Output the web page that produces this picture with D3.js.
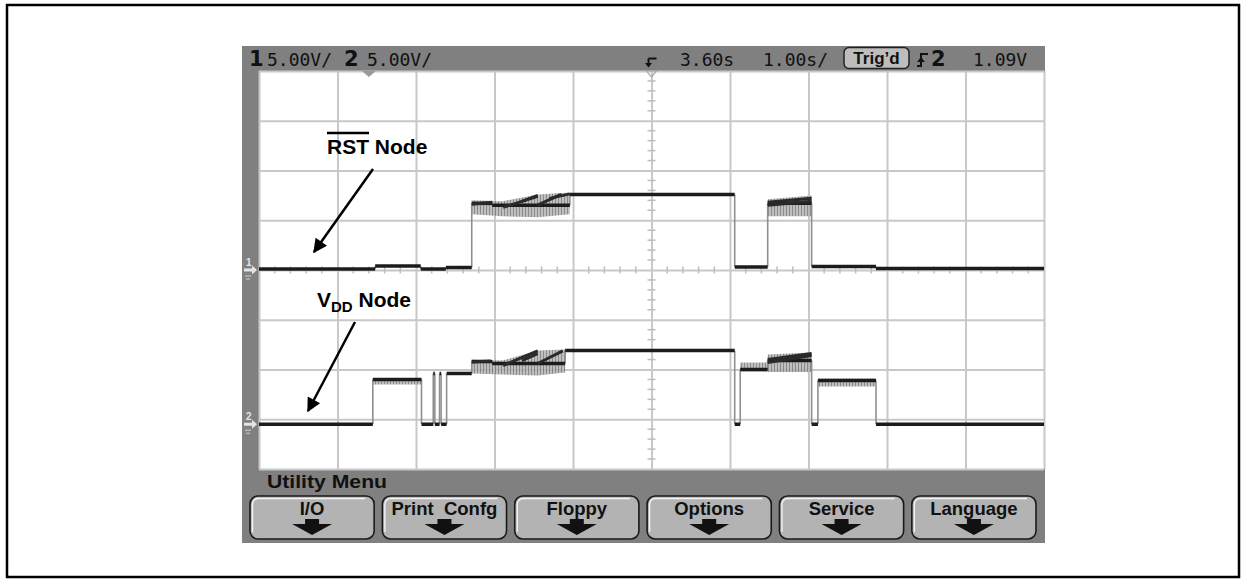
<!DOCTYPE html>
<html lang="en">
<head>
<meta charset="utf-8">
<title>RST and VDD node scope capture</title>
<script src="https://d3js.org/d3.v7.min.js"></script>
<style>
  body { margin: 0; background: white; }
</style>
</head>
<body>
<script>
const w = 1246;
const h = 582;

// scope settings
const voltsPerDiv = [5.0, 5.0];
const secPerDiv = 1.0;
const delay = 3.60;
const trigLevel = 1.09;
const timeRange = [-1.4, 8.6];      // s, left to right edge of the screen
const ch1Range = [-20, 20];         // V, bottom to top (RST)
const ch2Range = [-4.5, 35.5];      // V, bottom to top (VDD)

// trace 1: RST node, flat steps [t start, t end, volts]
const rstSteps = [
  [-1.4, 0.08, 0.1],
  [0.08, 0.66, 0.4],
  [0.66, 0.98, 0.1],
  [0.98, 1.31, 0.25],
  [1.31, 1.57, 6.7],
  [1.57, 2.56, 6.5],
  [2.56, 4.66, 7.6],
  [4.66, 5.08, 0.3],
  [5.08, 5.64, 6.7],
  [5.64, 6.46, 0.35],
  [6.46, 8.6, 0.15]
];
// sawtooth pieces inside the noisy parts [t0, v0, t1, v1]
const rstRamps = [
  [1.31, 6.6, 1.57, 6.8],
  [1.71, 6.3, 2.15, 7.4],
  [1.95, 6.9, 2.15, 7.5],
  [2.14, 6.5, 2.45, 7.6],
  [2.30, 7.2, 2.56, 7.65],
  [5.08, 6.5, 5.64, 6.9],
  [5.08, 6.8, 5.64, 7.2]
];
// noise envelopes [t, top, bottom]
const rstNoise = [
  [[1.31, 7.0, 5.6], [1.70, 6.9, 5.4], [2.15, 7.6, 5.3], [2.56, 7.8, 5.6]],
  [[5.08, 7.1, 5.4], [5.64, 7.5, 5.4]]
];

// trace 2: VDD node
const vddSteps = [
  [-1.4, 0.05, 0.0],
  [0.05, 0.67, 4.5],
  [0.67, 0.82, 0.0],
  [0.82, 0.84, 5.1],
  [0.84, 0.90, 0.0],
  [0.90, 0.92, 5.1],
  [0.92, 0.99, 0.0],
  [0.99, 1.31, 5.1],
  [1.31, 1.57, 6.3],
  [1.57, 2.50, 6.1],
  [2.50, 4.66, 7.4],
  [4.66, 4.73, 0.0],
  [4.73, 5.08, 5.5],
  [5.08, 5.64, 6.4],
  [5.64, 5.72, 0.0],
  [5.72, 6.46, 4.4],
  [6.46, 8.6, 0.0]
];
const vddRamps = [
  [1.31, 6.26, 1.55, 6.36],
  [1.71, 5.9, 2.15, 7.37],
  [1.95, 6.4, 2.15, 7.1],
  [2.15, 6.1, 2.47, 7.37],
  [5.08, 6.2, 5.64, 6.9],
  [5.08, 6.5, 5.64, 7.1]
];
const vddNoise = [
  [[0.05, 4.6, 4.0], [0.67, 4.6, 4.0]],
  [[1.31, 6.5, 5.1], [1.70, 6.4, 5.0], [2.15, 7.4, 4.9], [2.50, 7.5, 5.2]],
  [[4.73, 6.2, 5.3], [5.08, 6.2, 5.3]],
  [[5.08, 7.0, 5.25], [5.64, 7.2, 5.25]],
  [[5.72, 4.6, 3.8], [6.46, 4.6, 3.8]]
];

const menuTitle = "Utility  Menu";
const menuLabels = ["I/O", "Print  Confg", "Floppy", "Options", "Service", "Language"];

// ---- layout
const scr = {x: 242, y: 46, w: 803, h: 497};
const grid = {x0: 259, y0: 71, x1: 1044, y1: 469};
const nx = 10, ny = 8;

const svg = d3.select("body")
  .append("svg")
  .attr("width", w)
  .attr("height", h)
  .attr("font-family", "Liberation Sans, Arial, sans-serif");

svg.append("rect")
  .attr("x", 7).attr("y", 5)
  .attr("width", 1232).attr("height", 572)
  .attr("fill", "white")
  .attr("stroke", "black")
  .attr("stroke-width", 2.5);

const defs = svg.append("defs");
const pat = defs.append("pattern")
  .attr("id", "noise")
  .attr("patternUnits", "userSpaceOnUse")
  .attr("width", 3).attr("height", 6);
pat.append("rect").attr("width", 3).attr("height", 6).attr("fill", "#b4b4b4");
pat.append("rect").attr("width", 1).attr("height", 6).attr("fill", "#777");

defs.append("marker")
  .attr("id", "head")
  .attr("viewBox", "0 0 10 10")
  .attr("refX", 9).attr("refY", 5)
  .attr("markerWidth", 7).attr("markerHeight", 5.6)
  .attr("orient", "auto")
  .append("path")
  .attr("d", "M0,0 L10,5 L0,10 z")
  .attr("fill", "black");

// scope screen
svg.append("rect")
  .attr("x", scr.x).attr("y", scr.y)
  .attr("width", scr.w).attr("height", scr.h)
  .attr("fill", "#808080");
svg.append("rect")
  .attr("x", grid.x0).attr("y", grid.y0)
  .attr("width", grid.x1 - grid.x0).attr("height", grid.y1 - grid.y0)
  .attr("fill", "white");

const xDiv = d3.scaleLinear().domain([0, nx]).range([grid.x0, grid.x1]);
const yDiv = d3.scaleLinear().domain([0, ny]).range([grid.y0, grid.y1]);
const x = d3.scaleLinear().domain(timeRange).range([grid.x0, grid.x1]);
const y1 = d3.scaleLinear().domain(ch1Range).range([grid.y1, grid.y0]);
const y2 = d3.scaleLinear().domain(ch2Range).range([grid.y1, grid.y0]);

// graticule
const gridG = svg.append("g");
gridG.append("g")
  .attr("transform", `translate(0,${grid.y0})`)
  .call(d3.axisTop(xDiv).ticks(nx).tickSize(-(grid.y1 - grid.y0)).tickFormat(""))
  .call(g => g.select(".domain").remove());
gridG.append("g")
  .attr("transform", `translate(${grid.x0},0)`)
  .call(d3.axisLeft(yDiv).ticks(ny).tickSize(-(grid.x1 - grid.x0)).tickFormat(""))
  .call(g => g.select(".domain").remove());
gridG.selectAll(".tick line")
  .attr("stroke", "#c8c8c8")
  .attr("stroke-width", 2);

// minor ticks on the centre axes
const cx = xDiv(nx / 2), cy = yDiv(ny / 2);
gridG.selectAll(".mx")
  .data(d3.range(1, nx * 5).filter(i => i % 5 !== 0))
  .enter().append("line")
  .attr("x1", i => xDiv(i / 5)).attr("x2", i => xDiv(i / 5))
  .attr("y1", cy - 3.5).attr("y2", cy + 3.5)
  .attr("stroke", "#bdbdbd").attr("stroke-width", 1.5);
gridG.selectAll(".my")
  .data(d3.range(1, ny * 5).filter(i => i % 5 !== 0))
  .enter().append("line")
  .attr("y1", i => yDiv(i / 5)).attr("y2", i => yDiv(i / 5))
  .attr("x1", cx - 4).attr("x2", cx + 4)
  .attr("stroke", "#bdbdbd").attr("stroke-width", 1.5);

// trigger (t = 0) marker and delay marker at the top of the grid
svg.append("path")
  .attr("d", `M${x(0) - 7},${grid.y0} L${x(0) + 7},${grid.y0} L${x(0)},${grid.y0 + 6} z`)
  .attr("fill", "#9a9a9a");
svg.append("path")
  .attr("d", `M${cx - 5},${grid.y0} L${cx + 5},${grid.y0} L${cx},${grid.y0 + 6} z`)
  .attr("fill", "none").attr("stroke", "#aaa").attr("stroke-width", 1.2);

// traces
function drawTrace(steps, ramps, noise, y) {
  const g = svg.append("g");
  const area = d3.area()
    .x(d => x(d[0])).y0(d => y(d[2])).y1(d => y(d[1]));
  g.selectAll(".noise")
    .data(noise)
    .enter().append("path")
    .attr("d", area)
    .attr("fill", "url(#noise)")
    .attr("opacity", 0.85);
  // edges between steps
  g.selectAll(".edge")
    .data(steps.slice(1).map((s, i) => [s[0], steps[i][2], s[2]]))
    .enter().append("line")
    .attr("x1", d => x(d[0])).attr("x2", d => x(d[0]))
    .attr("y1", d => y(d[1])).attr("y2", d => y(d[2]))
    .attr("stroke", "#8f8f8f").attr("stroke-width", 1.6);
  g.selectAll(".flat")
    .data(steps)
    .enter().append("line")
    .attr("x1", d => x(d[0])).attr("x2", d => x(d[1]))
    .attr("y1", d => y(d[2])).attr("y2", d => y(d[2]))
    .attr("stroke", "#1c1c1c").attr("stroke-width", 3.5);
  g.selectAll(".ramp")
    .data(ramps)
    .enter().append("line")
    .attr("x1", d => x(d[0])).attr("y1", d => y(d[1]))
    .attr("x2", d => x(d[2])).attr("y2", d => y(d[3]))
    .attr("stroke", "#2a2a2a").attr("stroke-width", 3);
}
drawTrace(rstSteps, rstRamps, rstNoise, y1);
drawTrace(vddSteps, vddRamps, vddNoise, y2);

// ground markers on the left strip
[["1", y1(0)], ["2", y2(0)]].forEach(([lab, gy]) => {
  svg.append("text")
    .attr("x", 246).attr("y", gy - 4)
    .attr("font-size", 10).attr("font-weight", "bold")
    .attr("fill", "#e4e4e4")
    .text(lab);
  svg.append("path")
    .attr("d", `M244,${gy - 1.5} h8 v-3 l5,4.5 l-5,4.5 v-3 h-8 z`)
    .attr("fill", "#e4e4e4");
  svg.append("path")
    .attr("d", `M245,${gy + 6} h6 M246,${gy + 9} h4`)
    .attr("stroke", "#d0d0d0").attr("stroke-width", 1);
});

// header status line
const header = [
  {t: "1", x: 249, bold: true},
  {t: voltsPerDiv[0].toFixed(2) + "V/", x: 267},
  {t: "2", x: 344, bold: true},
  {t: voltsPerDiv[1].toFixed(2) + "V/", x: 367},
  {t: delay.toFixed(2) + "s", x: 680},
  {t: secPerDiv.toFixed(2) + "s/", x: 763},
  {t: "2", x: 931, bold: true},
  {t: trigLevel.toFixed(2) + "V", x: 973}
];
svg.selectAll(".hdr")
  .data(header)
  .enter().append("text")
  .attr("x", d => d.x).attr("y", 65.5)
  .attr("font-family", d => d.bold ? "DejaVu Sans" : "DejaVu Sans Mono")
  .attr("font-weight", d => d.bold ? "bold" : "normal")
  .attr("font-size", d => d.bold ? 21 : 18)
  .attr("fill", "#111")
  .text(d => d.t);

// delay reference icon
svg.append("path")
  .attr("d", `M${cx - 3},58.5 h8 M${cx - 3},58.5 v6`)
  .attr("stroke", "#111").attr("stroke-width", 2).attr("fill", "none");
svg.append("path")
  .attr("d", `M${cx - 6.5},63 h7 l-3.5,4.5 z`)
  .attr("fill", "#111");

// Trig'd badge
svg.append("rect")
  .attr("x", 844).attr("y", 47.5).attr("width", 65).attr("height", 21).attr("rx", 5)
  .attr("fill", "#bdbdbd").attr("stroke", "#222").attr("stroke-width", 1.5);
svg.append("text")
  .attr("x", 876.5).attr("y", 64)
  .attr("text-anchor", "middle")
  .attr("font-size", 17).attr("font-weight", "bold")
  .attr("fill", "#111")
  .text("Trig’d");
// rising edge symbol
svg.append("path")
  .attr("d", "M917,66 h4 v-12 h7")
  .attr("stroke", "#111").attr("stroke-width", 2).attr("fill", "none");
svg.append("path")
  .attr("d", "M917,62 l4,-5 l4,5 z")
  .attr("fill", "#111");

// annotations
const rst = svg.append("text")
  .attr("x", 327).attr("y", 154)
  .attr("font-size", 21).attr("font-weight", "bold")
  .attr("fill", "black");
rst.append("tspan").text("RST");
rst.append("tspan").text(" Node");
const rstW = rst.node().getSubStringLength(0, 3);
svg.append("line")
  .attr("x1", 327).attr("x2", 327 + rstW)
  .attr("y1", 133).attr("y2", 133)
  .attr("stroke", "black").attr("stroke-width", 2.5);
svg.append("line")
  .attr("x1", 373).attr("y1", 169)
  .attr("x2", 314).attr("y2", 252)
  .attr("stroke", "black").attr("stroke-width", 2.5)
  .attr("marker-end", "url(#head)");

const vdd = svg.append("text")
  .attr("x", 317).attr("y", 307)
  .attr("font-size", 21).attr("font-weight", "bold")
  .attr("fill", "black");
vdd.append("tspan").text("V");
vdd.append("tspan").attr("font-size", 15).attr("dy", 5).text("DD");
vdd.append("tspan").attr("dy", -5).text(" Node");
svg.append("line")
  .attr("x1", 355).attr("y1", 322)
  .attr("x2", 308).attr("y2", 411)
  .attr("stroke", "black").attr("stroke-width", 2.5)
  .attr("marker-end", "url(#head)");

// softkey menu
svg.append("text")
  .attr("x", 267).attr("y", 488)
  .attr("font-size", 18).attr("font-weight", "bold")
  .attr("fill", "#111")
  .attr("textLength", 120).attr("lengthAdjust", "spacingAndGlyphs")
  .text(menuTitle);

const keys = d3.scaleBand()
  .domain(menuLabels)
  .range([250, 1036])
  .paddingInner(0.062);

const btn = svg.selectAll(".key")
  .data(menuLabels)
  .enter().append("g")
  .attr("transform", d => `translate(${keys(d)},496)`);
btn.append("rect")
  .attr("width", keys.bandwidth()).attr("height", 43).attr("rx", 8)
  .attr("fill", "#b3b3b3")
  .attr("stroke", "#1a1a1a").attr("stroke-width", 1.6);
btn.append("path")
  .attr("d", `M2.5,36 V9 Q2.5,2.5 9,2.5 H${keys.bandwidth() - 9}`)
  .attr("stroke", "#f2f2f2").attr("stroke-width", 1.4).attr("fill", "none");
btn.append("text")
  .attr("x", keys.bandwidth() / 2).attr("y", 18.5)
  .attr("text-anchor", "middle")
  .attr("font-size", 18.5).attr("font-weight", "bold")
  .attr("fill", "#111")
  .style("white-space", "pre")
  .text(d => d);
btn.append("path")
  .attr("d", () => {
    const c = keys.bandwidth() / 2;
    return `M${c - 7},23 h14 v5 h13 L${c},39 L${c - 20},28 h13 z`;
  })
  .attr("fill", "#111");
</script>
</body>
</html>
